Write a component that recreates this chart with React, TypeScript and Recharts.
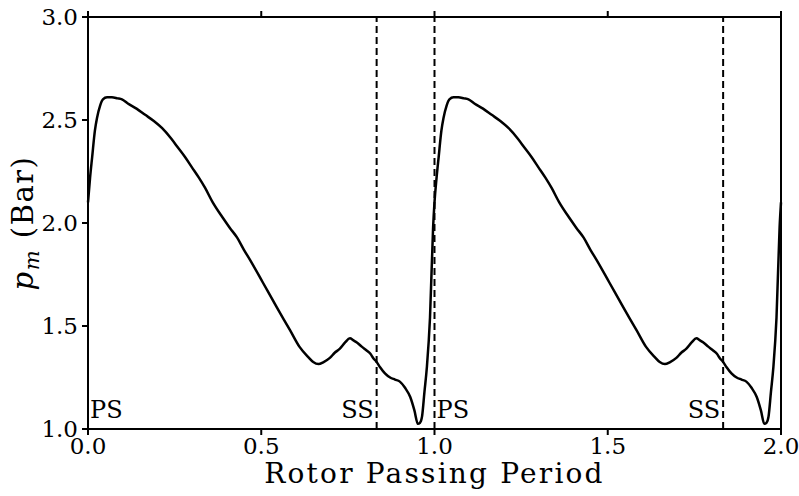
import { LineChart, Line, XAxis, YAxis, ReferenceLine, Label } from 'recharts'

// one rotor passing period (phase, p_m in bar)
const phase = [
  0.0, 0.006, 0.012, 0.02, 0.026, 0.035, 0.043, 0.055, 0.069, 0.085, 0.098, 0.115, 0.14, 0.165, 0.19,
  0.214, 0.24, 0.26, 0.28, 0.3, 0.32, 0.338, 0.36, 0.387, 0.41, 0.43, 0.45, 0.468, 0.505, 0.545,
  0.583, 0.61, 0.635, 0.65, 0.665, 0.68, 0.698, 0.712, 0.727, 0.742, 0.756, 0.766, 0.776, 0.79,
  0.805, 0.815, 0.823, 0.833, 0.843, 0.857, 0.872, 0.886, 0.9, 0.915, 0.93, 0.942, 0.952, 0.958,
  0.964, 0.971, 0.978, 0.987, 0.996,
]
const pm = [
  2.1, 2.22, 2.32, 2.45, 2.51, 2.57, 2.6, 2.61, 2.61, 2.605, 2.6, 2.58, 2.555, 2.525, 2.495,
  2.46, 2.41, 2.365, 2.32, 2.27, 2.22, 2.17, 2.1, 2.03, 1.975, 1.93, 1.87, 1.82, 1.71, 1.59,
  1.48, 1.4, 1.35, 1.325, 1.315, 1.325, 1.345, 1.37, 1.39, 1.42, 1.44, 1.43, 1.42, 1.4,
  1.38, 1.365, 1.345, 1.325, 1.3, 1.27, 1.25, 1.24, 1.23, 1.2, 1.155, 1.09, 1.025, 1.03,
  1.06, 1.18, 1.3, 1.54, 1.98,
]
const periods = [0, 1]
const endPoint = { t: 2.0, pm: 2.1 }

const xTicks = [0, 0.5, 1, 1.5, 2]
const yTicks = [1, 1.5, 2, 2.5, 3]
const ssLines = [0.833, 1.833]
const psLines = [1.0]

const data = periods
  .flatMap((k) => phase.map((p, i) => ({ t: k + p, pm: pm[i] })))
  .concat(endPoint)

const FONT = 'DejaVu Serif'
const fmt = (v: number) => v.toFixed(1)
const blank = () => ''

function EdgeLabel(props: any) {
  const { viewBox, text, side } = props
  if (!viewBox) return null
  const x = side === 'left' ? viewBox.x - 3 : viewBox.x + 2
  const y = viewBox.y + viewBox.height - 11
  return (
    <text x={x} y={y} textAnchor={side === 'left' ? 'end' : 'start'} fontFamily={FONT} fontSize={24} fill="#000">
      {text}
    </text>
  )
}

function YTitle(props: any) {
  const { viewBox } = props
  const cy = viewBox.y + viewBox.height / 2
  const cx = 33
  return (
    <text x={cx} y={cy} transform={`rotate(-90 ${cx} ${cy})`} textAnchor="middle" fontFamily={FONT} fontSize={29} letterSpacing={1.5} fill="#000">
      <tspan fontStyle="italic">p</tspan>
      <tspan fontStyle="italic" fontSize={21} dy={6}>m</tspan>
      <tspan dy={-6}> (Bar)</tspan>
    </text>
  )
}

function XTitle(props: any) {
  const { viewBox } = props
  const cx = viewBox.x + viewBox.width / 2
  return (
    <text x={cx} y={483} textAnchor="middle" fontFamily={FONT} fontSize={28} letterSpacing={2.2} fill="#000">
      Rotor Passing Period
    </text>
  )
}

export default function App() {
  const axisStyle = { fontFamily: FONT, fontSize: 23, fill: '#000' }
  return (
    <div style={{ position: 'absolute', left: 0, top: 0, background: '#fff' }}>
      <LineChart width={799} height={496} data={data} margin={{ top: 0, right: 0, bottom: 0, left: 0 }}>
        <XAxis
          xAxisId="b"
          dataKey="t"
          type="number"
          domain={[0, 2]}
          ticks={xTicks}
          tickFormatter={fmt}
          height={67}
          stroke="#000"
          strokeWidth={2}
          tickSize={6}
          tickMargin={3}
          tick={axisStyle}
        >
          <Label content={<XTitle />} />
        </XAxis>
        <XAxis
          xAxisId="t"
          orientation="top"
          dataKey="t"
          type="number"
          domain={[0, 2]}
          ticks={xTicks}
          tickFormatter={blank}
          height={17}
          stroke="#000"
          strokeWidth={2}
          tickSize={6}
        />
        <YAxis
          yAxisId="l"
          type="number"
          domain={[1, 3]}
          ticks={yTicks}
          tickFormatter={fmt}
          width={88}
          stroke="#000"
          strokeWidth={2}
          tickSize={6}
          tickMargin={4}
          tick={axisStyle}
        >
          <Label content={<YTitle />} />
        </YAxis>
        <YAxis
          yAxisId="r"
          orientation="right"
          type="number"
          domain={[1, 3]}
          ticks={yTicks}
          tickFormatter={blank}
          width={18}
          stroke="#000"
          strokeWidth={2}
          tickSize={6}
        />
        <ReferenceLine xAxisId="b" yAxisId="l" x={0} stroke="none" label={<EdgeLabel text="PS" side="right" />} />
        {psLines.map((x) => (
          <ReferenceLine key={'ps' + x} xAxisId="b" yAxisId="l" x={x} stroke="#000" strokeWidth={2} strokeDasharray="7 4" label={<EdgeLabel text="PS" side="right" />} />
        ))}
        {ssLines.map((x) => (
          <ReferenceLine key={'ss' + x} xAxisId="b" yAxisId="l" x={x} stroke="#000" strokeWidth={2} strokeDasharray="7 4" label={<EdgeLabel text="SS" side="left" />} />
        ))}
        <Line
          xAxisId="b"
          yAxisId="l"
          dataKey="pm"
          type="monotone"
          stroke="#000"
          strokeWidth={2.5}
          dot={false}
          isAnimationActive={false}
        />
      </LineChart>
    </div>
  )
}
